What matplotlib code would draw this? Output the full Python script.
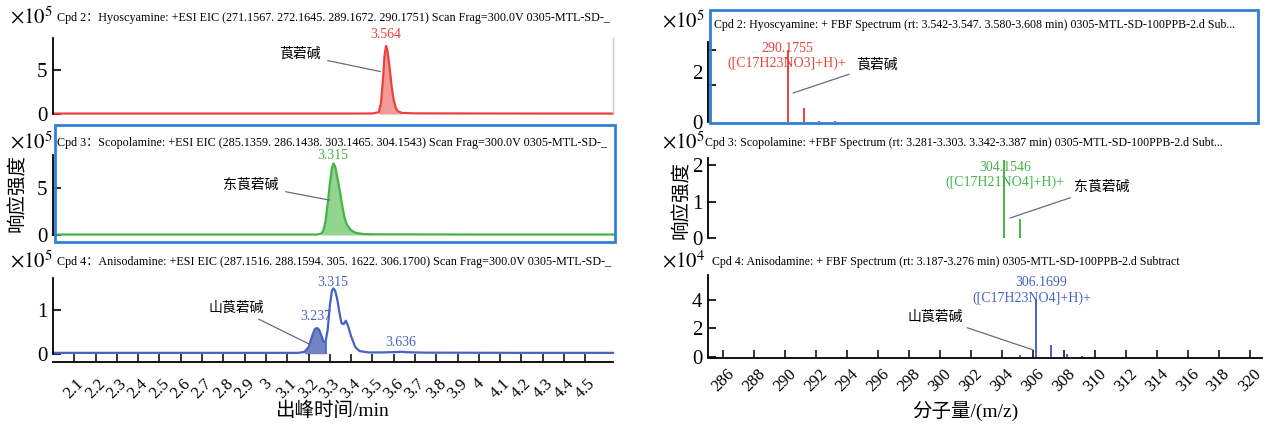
import matplotlib
matplotlib.use('Agg')
import matplotlib.pyplot as plt
from matplotlib.patches import Rectangle

plt.rcParams['font.family'] = ['Liberation Serif', 'Noto Sans CJK SC']
plt.rcParams['mathtext.fontset'] = 'stix'

W, H = 1269, 425

# 色谱图数据 (min, x1e5)
hyo_t = [2.0, 2.6, 3.0, 3.4, 3.50, 3.53, 3.54, 3.55, 3.557, 3.564, 3.57, 3.58, 3.59, 3.60, 3.61, 3.62, 3.64, 3.70, 4.0, 4.3, 4.63]
hyo_i = [0.05, 0.05, 0.05, 0.05, 0.06, 0.2, 1.2, 4.0, 6.6, 7.7, 7.3, 5.4, 3.2, 1.6, 0.7, 0.3, 0.12, 0.07, 0.06, 0.05, 0.05]

sco_t = [2.0, 2.6, 3.0, 3.24, 3.26, 3.27, 3.28, 3.29, 3.30, 3.31, 3.317, 3.325, 3.335, 3.35, 3.36, 3.37, 3.38, 3.40, 3.42, 3.45, 3.50, 4.0, 4.63]
sco_i = [0.05, 0.05, 0.05, 0.05, 0.15, 0.5, 1.5, 3.3, 5.4, 7.1, 7.6, 7.3, 6.2, 4.3, 2.9, 1.8, 1.1, 0.5, 0.25, 0.12, 0.07, 0.05, 0.05]

ani_t = [2.0, 2.6, 3.0, 3.15, 3.18, 3.20, 3.22, 3.23, 3.24, 3.25, 3.26, 3.27, 3.28, 3.29, 3.30, 3.31, 3.317, 3.325, 3.335, 3.345, 3.355, 3.365, 3.375, 3.385, 3.40, 3.42, 3.44, 3.48, 3.55, 3.62, 3.636, 3.66, 3.75, 4.2, 4.63]
ani_i = [0.02, 0.02, 0.02, 0.02, 0.04, 0.15, 0.45, 0.57, 0.59, 0.55, 0.42, 0.28, 0.27, 0.55, 1.1, 1.45, 1.5, 1.45, 1.25, 0.95, 0.7, 0.68, 0.76, 0.65, 0.4, 0.15, 0.06, 0.03, 0.03, 0.04, 0.045, 0.035, 0.025, 0.02, 0.02]

# 质谱数据 (m/z, 强度)
hyo_mz = [290.1755, 291.179, 292.18, 293.19]
hyo_int = [2.9, 0.55, 0.05, 0.03]
sco_mz = [304.1546, 305.158]
sco_int = [2.15, 0.53]
ani_mz = [305.16, 306.1699, 307.173, 308.18, 309.19]
ani_int = [0.12, 4.1, 0.85, 0.22, 0.08]

rt_ticks = [2.1, 2.2, 2.3, 2.4, 2.5, 2.6, 2.7, 2.8, 2.9, 3.0, 3.1, 3.2, 3.3, 3.4, 3.5,
            3.6, 3.7, 3.8, 3.9, 4.0, 4.1, 4.2, 4.3, 4.4, 4.5]
rt_labels = ['2.1', '2.2', '2.3', '2.4', '2.5', '2.6', '2.7', '2.8', '2.9', '3', '3.1', '3.2', '3.3', '3.4', '3.5',
             '3.6', '3.7', '3.8', '3.9', '4', '4.1', '4.2', '4.3', '4.4', '4.5']
mz_ticks = [286, 288, 290, 292, 294, 296, 298, 300, 302, 304, 306, 308, 310, 312, 314, 316, 318, 320]

titles_l = ['Cpd 2：Hyoscyamine: +ESI EIC (271.1567. 272.1645. 289.1672. 290.1751) Scan Frag=300.0V 0305-MTL-SD-_',
            'Cpd 3：Scopolamine: +ESI EIC (285.1359. 286.1438. 303.1465. 304.1543) Scan Frag=300.0V 0305-MTL-SD-_',
            'Cpd 4：Anisodamine: +ESI EIC (287.1516. 288.1594. 305. 1622. 306.1700) Scan Frag=300.0V 0305-MTL-SD-_']
titles_r = ['Cpd 2: Hyoscyamine: + FBF Spectrum (rt: 3.542-3.547. 3.580-3.608 min) 0305-MTL-SD-100PPB-2.d Sub...',
            'Cpd 3: Scopolamine: +FBF Spectrum (rt: 3.281-3.303. 3.342-3.387 min) 0305-MTL-SD-100PPB-2.d Subt...',
            'Cpd 4: Anisodamine: + FBF Spectrum (rt: 3.187-3.276 min) 0305-MTL-SD-100PPB-2.d Subtract']

RED, GREEN, BLUE = '#e8423c', '#45b446', '#4663c4'
BOX = '#2f80d2'
LEAD = '#6a6a80'
ANN = 10


def box(l, t, r, b):
    return [l / W, 1 - b / H, (r - l) / W, (b - t) / H]


def style(ax, ylim, yticks):
    ax.set_ylim(*ylim)
    ax.set_yticks(yticks)
    ax.set_yticklabels([str(v) for v in yticks])
    for s in ['top', 'right', 'bottom']:
        ax.spines[s].set_visible(False)
    ax.spines['left'].set_linewidth(1.3)
    ax.spines['left'].set_bounds(0, ylim[1])
    ax.tick_params(axis='y', direction='in', length=6, width=1.2, labelsize=15, pad=4)
    ax.patch.set_alpha(0)


def lead(ax, label, xy, xytext):
    ax.annotate(label, xy=xy, xytext=xytext, fontsize=ANN, ha='center', va='center',
                arrowprops=dict(arrowstyle='-', color=LEAD, lw=0.9, shrinkA=3, shrinkB=0))


fig = plt.figure(figsize=(W / 100, H / 100), dpi=100)

# ---- 左侧：提取离子色谱 ----
ax1 = fig.add_axes(box(53, 38, 613, 114))
ax1.plot(hyo_t, hyo_i, color=RED, lw=1.6, clip_on=False)
ax1.fill_between(hyo_t, hyo_i, where=[3.53 <= t <= 3.64 for t in hyo_t], color='#f29a98', lw=0)
style(ax1, (0, 8.6), [0, 5])
ax1.set_xlim(2.0, 4.63)
ax1.set_xticks([])
ax1.axvline(4.63, color='#c8c8c8', lw=1, clip_on=False)
ax1.text(3.564, 8.95, '3.564', color=RED, fontsize=ANN, ha='center', va='center', clip_on=False)
lead(ax1, '莨菪碱', (3.538, 4.8), (3.16, 6.7))

ax2 = fig.add_axes(box(53, 155, 613, 235))
ax2.plot(sco_t, sco_i, color=GREEN, lw=1.6, clip_on=False)
ax2.fill_between(sco_t, sco_i, where=[3.25 <= t <= 3.50 for t in sco_t], color='#93d48f', lw=0)
style(ax2, (0, 8.5), [0, 5])
ax2.set_xlim(2.0, 4.63)
ax2.set_xticks([])
ax2.text(3.315, 8.45, '3.315', color=GREEN, fontsize=ANN, ha='center', va='center', clip_on=False)
lead(ax2, '东莨菪碱', (3.30, 3.7), (2.93, 5.3))

ax3 = fig.add_axes(box(53, 278, 613, 362))
ax3.plot(ani_t, ani_i, color=BLUE, lw=1.6, clip_on=False)
ax3.fill_between(ani_t, ani_i, where=[3.18 <= t <= 3.28 for t in ani_t], color='#5a6fb8', lw=0, alpha=0.85)
ax3.vlines(3.28, 0, 0.27, color=BLUE, lw=1.2)
style(ax3, (-0.19, 1.74), [0, 1])
ax3.set_xlim(2.0, 4.63)
ax3.spines['bottom'].set_visible(True)
ax3.spines['bottom'].set_linewidth(1.3)
ax3.set_xticks(rt_ticks)
ax3.set_xticklabels(rt_labels, rotation=45, ha='center')
ax3.tick_params(axis='x', direction='in', length=6, width=1.1, labelsize=12, pad=10)
ax3.set_xlabel('出峰时间/min', fontsize=14, labelpad=0)
ax3.text(3.315, 1.63, '3.315', color=BLUE, fontsize=ANN, ha='center', va='center')
ax3.text(3.235, 0.86, '3.237', color=BLUE, fontsize=ANN, ha='center', va='center')
ax3.text(3.632, 0.26, '3.636', color=BLUE, fontsize=ANN, ha='center', va='center')
lead(ax3, '山莨菪碱', (3.2, 0.23), (2.86, 1.05))

# ---- 右侧：质谱 ----
ax4 = fig.add_axes(box(708, 42, 1262, 122))
ax4.vlines(hyo_mz, 0, hyo_int, color=RED, lw=1.4)
style(ax4, (0, 3.2), [0, 2])
ax4.set_yticks([1.48, 2.9], minor=True)
ax4.tick_params(axis='y', which='major', length=0)
ax4.tick_params(axis='y', which='minor', direction='in', length=6, width=1.2)
ax4.set_xlim(285.0, 320.8)
ax4.set_xticks([])
ax4.text(290.11, 2.96, '290.1755', color=RED, fontsize=ANN, ha='center', va='center')
ax4.text(290.11, 2.36, '([C17H23NO3]+H)+', color=RED, fontsize=ANN, ha='center', va='center')
lead(ax4, '莨菪碱', (290.5, 1.16), (295.9, 2.28))

ax5 = fig.add_axes(box(708, 158, 1262, 238))
ax5.vlines(sco_mz, 0, sco_int, color=GREEN, lw=1.4)
style(ax5, (0, 2.2), [0, 1, 2])
ax5.set_xlim(285.0, 320.8)
ax5.set_xticks([])
ax5.text(304.2, 1.95, '304.1546', color=GREEN, fontsize=ANN, ha='center', va='center')
ax5.text(304.2, 1.54, '([C17H21NO4]+H)+', color=GREEN, fontsize=ANN, ha='center', va='center')
lead(ax5, '东莨菪碱', (304.52, 0.55), (310.46, 1.4))

ax6 = fig.add_axes(box(708, 275, 1262, 358))
ax6.vlines(ani_mz, 0, ani_int, color=BLUE, lw=1.4)
style(ax6, (-0.07, 5.75), [0, 2, 4])
ax6.set_xlim(285.0, 320.8)
ax6.spines['bottom'].set_visible(True)
ax6.spines['bottom'].set_linewidth(1.3)
ax6.set_xticks(mz_ticks)
ax6.set_xticklabels([str(v) for v in mz_ticks], rotation=45, ha='center')
ax6.tick_params(axis='x', direction='in', length=6, width=1.1, labelsize=12, pad=6)
ax6.set_xlabel('分子量/(m/z)', fontsize=14, labelpad=0)
ax6.xaxis.set_label_coords(0.464, -0.52)
ax6.text(306.5, 5.25, '306.1699', color=BLUE, fontsize=ANN, ha='center', va='center')
ax6.text(305.9, 4.15, '([C17H23NO4]+H)+', color=BLUE, fontsize=ANN, ha='center', va='center')
lead(ax6, '山莨菪碱', (306.0, 0.5), (299.7, 2.8))

# ---- 标题与量级 ----
for y, txt in zip([18, 143, 262], titles_l):
    fig.text(57 / W, 1 - y / H, txt, fontsize=8.7, va='center', ha='left')
for y, p in zip([18, 143, 262], [5, 5, 5]):
    fig.text(10 / W, 1 - y / H, r'$\times10^{%d}$' % p, fontsize=15, va='center', ha='left')
for (x, y), txt in zip([(714, 25), (705, 143), (712, 262)], titles_r):
    fig.text(x / W, 1 - y / H, txt, fontsize=8.6, va='center', ha='left')
for y, p in zip([22, 143, 262], [5, 5, 4]):
    fig.text(662 / W, 1 - y / H, r'$\times10^{%d}$' % p, fontsize=15, va='center', ha='left')

fig.text(18 / W, 1 - 193 / H, '响应强度', fontsize=14, rotation=90, va='center', ha='center')
fig.text(682 / W, 1 - 200 / H, '响应强度', fontsize=14, rotation=90, va='center', ha='center')

fig.add_artist(Rectangle((55 / W, 1 - 242 / H), 560 / W, 117 / H, fill=False, ec=BOX, lw=2,
                         transform=fig.transFigure))
fig.add_artist(Rectangle((710 / W, 1 - 123 / H), 548 / W, 113 / H, fill=False, ec=BOX, lw=2,
                         transform=fig.transFigure))

fig.savefig('out.png', dpi=100)
